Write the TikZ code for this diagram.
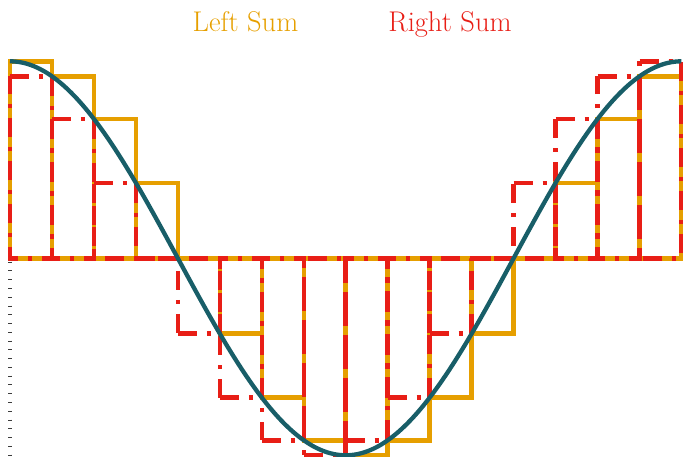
\documentclass[tikz,border=0pt]{standalone}
\usetikzlibrary{calc}
\definecolor{lsum}{RGB}{230,159,0}
\definecolor{rsum}{RGB}{232,30,22}
\definecolor{curvec}{RGB}{24,94,104}
\definecolor{tickc}{RGB}{60,60,60}
\tikzset{
  leftsum/.style={draw=lsum, line width=4.5pt, line join=miter},
  rightsum/.style={draw=rsum, line width=4.5pt, line join=miter, dash pattern=on 19pt off 10pt on 4pt off 10pt},
  curveline/.style={draw=curvec, line width=4.3pt},
  ticksline/.style={draw=tickc, line width=4pt, dash pattern=on 0.9pt off 7.87pt},
  sumlabel/.style={font=\fontsize{28.5}{32}\selectfont, anchor=base, inner sep=0pt}
}
\begin{document}
\begin{tikzpicture}[x=106.87pt, y=197pt]
\useasboundingbox (-10pt,-198.7pt) rectangle (673pt,258.3pt);
% y-axis ticks
\coordinate (ytop) at (0,-3.4pt);
\coordinate (ybot) at (0,-198.7pt);
\draw[ticksline] ([xshift=-0.2pt]ytop) -- ([xshift=-0.2pt]ybot);
% left sums
\foreach \i in {0,...,15}{
  \pgfmathsetmacro\xa{\i*pi/8}
  \pgfmathsetmacro\xb{(\i+1)*pi/8}
  \pgfmathsetmacro\hl{cos(\xa r)}
  \draw[leftsum] (\xa,\hl) -- (\xb,\hl) -- (\xb,0) -- (\xa,0) -- cycle;
}
% right sums
\foreach \i in {0,...,15}{
  \pgfmathsetmacro\xa{\i*pi/8}
  \pgfmathsetmacro\xb{(\i+1)*pi/8}
  \pgfmathsetmacro\hr{cos(\xb r)}
  \draw[rightsum] (\xa,\hr) -- (\xb,\hr) -- (\xb,0) -- (\xa,0) -- cycle;
}
% curve
\draw[curveline] plot[domain=0:2*pi, samples=200, smooth] (\x, {cos(\x r)});
% labels
\node[sumlabel, text=lsum] (lefttitle) at (235.5pt,226.6pt) {Left Sum};
\node[sumlabel, text=rsum] (righttitle) at (440pt,226.6pt) {Right Sum};
\end{tikzpicture}
\end{document}
